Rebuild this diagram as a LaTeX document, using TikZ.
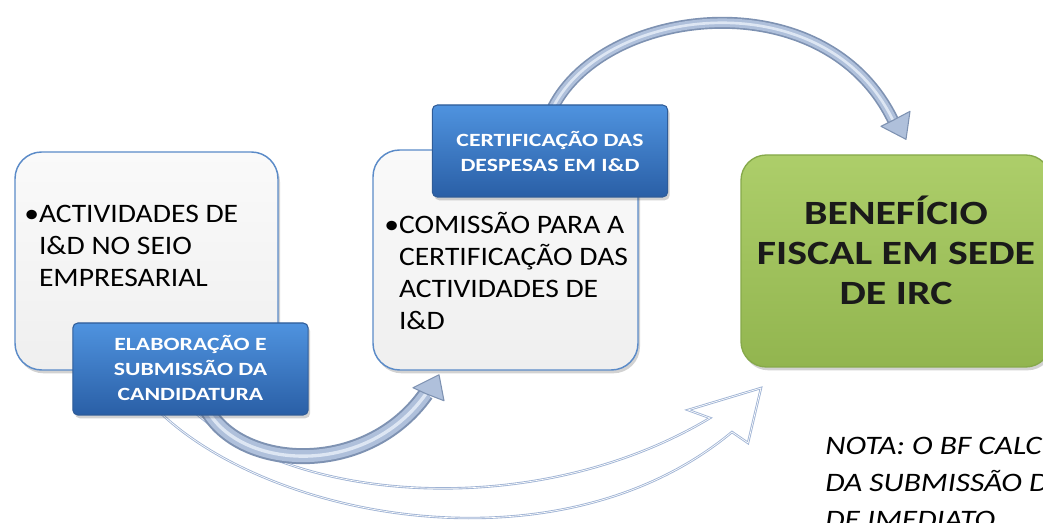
\documentclass[tikz,border=0pt]{standalone}
\usepackage{fontspec}
\usepackage{graphicx}
\setmainfont{Carlito}
\usetikzlibrary{shadows,backgrounds,calc}
\definecolor{boxborder}{HTML}{5B8BC8}
\definecolor{boxtop}{HTML}{FAFAFA}
\definecolor{boxbot}{HTML}{EFEFEF}
\definecolor{labtop}{HTML}{4F93DF}
\definecolor{labbot}{HTML}{2A5FA6}
\definecolor{labborder}{HTML}{2F5C98}
\definecolor{greentop}{HTML}{ADCE6A}
\definecolor{greenbot}{HTML}{92B54F}
\definecolor{greenborder}{HTML}{86A94A}
\definecolor{arrowdark}{HTML}{7E92B2}
\definecolor{arrowmid}{HTML}{AFC0DB}
\definecolor{arrowlight}{HTML}{DDE6F3}
\definecolor{hollow}{HTML}{9FB3D4}
\definecolor{greentext}{HTML}{1A1A1A}
\begin{document}
\begin{tikzpicture}[x=0.75pt,y=-0.75pt,
  softshadow/.style={drop shadow={shadow xshift=1.5pt,shadow yshift=-2.5pt,opacity=0.25,fill=black!70}},
  whitebox/.style={rectangle,rounded corners=20pt,draw=boxborder,line width=1.1pt,
    top color=boxtop,bottom color=boxbot,softshadow,inner sep=0pt},
  labelbox/.style={rectangle,rounded corners=3.75pt,draw=labborder,line width=0.8pt,
    top color=labtop,bottom color=labbot,softshadow,inner sep=0pt,
    minimum width=176.5pt,minimum height=69pt},
  greenbox/.style={rectangle,rounded corners=19pt,draw=greenborder,line width=1pt,
    top color=greentop,bottom color=greenbot,softshadow,inner sep=0pt,
    minimum width=232.5pt,minimum height=159pt},
  bodytext/.style={inner sep=0pt,anchor=base west,font=\fontsize{20}{24}\selectfont},
  labtext/.style={inner sep=0pt,anchor=base,text=white,font=\bfseries\fontsize{14}{18.5}\selectfont},
  greentextstyle/.style={inner sep=0pt,anchor=base,text=greentext,font=\bfseries\fontsize{25.5}{30}\selectfont},
  notetext/.style={inner sep=0pt,anchor=base west,font=\itshape\fontsize{20}{27.75}\selectfont},
  shaftouter/.style={draw=arrowdark},
  shaftmid/.style={draw=arrowmid},
  shafthi/.style={draw=arrowlight},
  headstyle/.style={fill=arrowmid,draw=arrowdark,line width=0.8pt,line join=round},
  hollowedge/.style={draw=hollow,line width=1.8pt,line join=miter},
  hollowhi/.style={draw=white,line width=0.5pt,line join=miter}
]
\useasboundingbox (0,0) rectangle (1043,523);

% boxes
\node[whitebox,minimum width=197.25pt,minimum height=163.5pt] (box1) at (146.5,261) {};
\node[whitebox,minimum width=198.75pt,minimum height=165pt] (box2) at (505.5,260) {};
\node[greenbox] (green) at (896,261) {};
\node[labelbox] (lab1) at (190.5,369) {};
\node[labelbox] (lab2) at (550,151) {};

% texts
\node[bodytext] (t1) at (24,223) {\scalebox{1.11}[1]{\begin{tabular}[t]{@{}l@{}l@{}}•&ACTIVIDADES DE\\&I\&D NO SEIO\\&EMPRESARIAL\end{tabular}}};
\node[bodytext] (t2) at (384,234) {\scalebox{1.11}[1]{\begin{tabular}[t]{@{}l@{}l@{}}•&COMISSÃO PARA A\\&CERTIFICAÇÃO DAS\\&ACTIVIDADES DE\\&I\&D\end{tabular}}};
\node[labtext] (l1) at (190.5,351) {\scalebox{1.27}[1]{\begin{tabular}[t]{@{}c@{}}ELABORAÇÃO E\\SUBMISSÃO DA\\CANDIDATURA\end{tabular}}};
\node[labtext] (l2) at (550,147) {\scalebox{1.27}[1]{\begin{tabular}[t]{@{}c@{}}CERTIFICAÇÃO DAS\\DESPESAS EM I\&D\end{tabular}}};
\node[greentextstyle] (g) at (896,225) {\scalebox{1.23}[1]{\begin{tabular}[t]{@{}c@{}}BENEFÍCIO\\FISCAL EM SEDE\\DE IRC\end{tabular}}};
\node[notetext] (note) at (825,455) {\scalebox{1.18}[1]{\begin{tabular}[t]{@{}l@{}}NOTA: O BF CALC\\DA SUBMISSÃO D\\DE IMEDIATO\end{tabular}}};

% arrow coordinates
\coordinate (a1s) at ($(lab1.south)+(14.5,-10)$);
\coordinate (a1e) at ($(box2.south)+(-79.5,23)$);
\coordinate (a1t) at ($(box2.south)+(-66.5,4)$);
\coordinate (a1b1) at ($(box2.south)+(-92.5,17)$);
\coordinate (a1b2) at ($(box2.south)+(-61.5,30)$);

\coordinate (a2s) at ($(lab2.north)+(3,3)$);
\coordinate (a2e) at ($(green.north)+(-3,-34)$);
\coordinate (a2t) at ($(green.north)+(10,-15)$);
\coordinate (a2b1) at ($(green.north)+(-15,-28)$);
\coordinate (a2b2) at ($(green.north)+(14,-43)$);

\coordinate (h0) at ($(lab1.south)+(-32.5,-5)$);
\coordinate (h1) at ($(lab1.south)+(4.5,-3)$);
\coordinate (hln) at (732,432);
\coordinate (hlb) at (748,443);
\coordinate (htip) at (761,388);
\coordinate (hub) at (688,410);
\coordinate (hun) at (710,418);

\begin{pgfonlayer}{background}
% hollow arrow to the benefit
\draw[hollowedge] (h0) .. controls (270,520) and (560,575) .. (hln) -- (hlb) -- (htip) -- (hub) -- (hun) .. controls (540,520) and (300,505) .. (h1);
\draw[hollowhi] (h0) .. controls (270,520) and (560,575) .. (hln) -- (hlb) -- (htip) -- (hub) -- (hun) .. controls (540,520) and (300,505) .. (h1);

% thick arrow 1
\def\arrowonepath{(a1s) .. controls (235,470) and (365,480) .. (a1e)}
\draw[shaftouter,line width=12pt] \arrowonepath;
\draw[shaftmid,line width=9pt] \arrowonepath;
\draw[shafthi,line width=2.5pt] \arrowonepath;
\filldraw[headstyle] (a1t) -- (a1b1) -- (a1e) -- (a1b2) -- cycle;

% arrow 2 (top arc)
\def\arrowtwopath{(a2s) .. controls (605,5) and (825,-20) .. (a2e)}
\draw[shaftouter,line width=9pt] \arrowtwopath;
\draw[shaftmid,line width=6.5pt] \arrowtwopath;
\draw[shafthi,line width=2pt] \arrowtwopath;
\filldraw[headstyle] (a2t) -- (a2b1) -- (a2e) -- (a2b2) -- cycle;
\end{pgfonlayer}
\end{tikzpicture}
\end{document}
